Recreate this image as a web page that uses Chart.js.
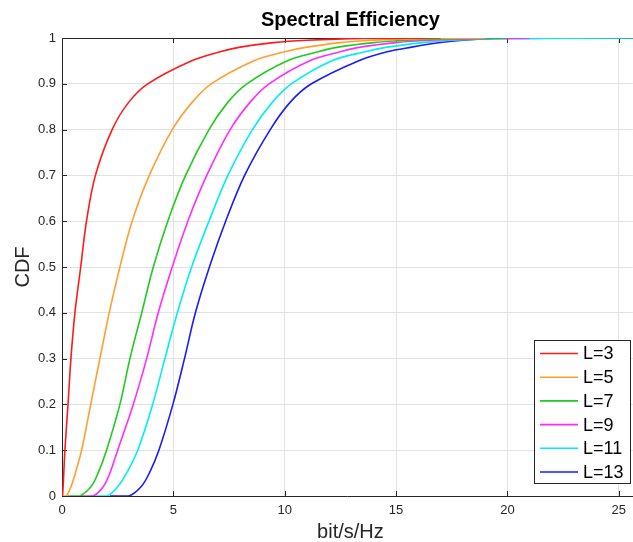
<!DOCTYPE html>
<html><head><meta charset="utf-8">
<script src="https://cdn.jsdelivr.net/npm/chart.js@4.4.1/dist/chart.umd.min.js"></script>
<style>html,body{margin:0;padding:0;background:#fff;}#wrap{width:633px;height:542px;position:relative;}</style>
</head><body><div id="wrap"><canvas id="c" width="633" height="542"></canvas></div>
<script>
// CDF levels shared by all series; each series gives the x (bit/s/Hz) at which it reaches that level
const cdfLevels = [0, 0, 0.02, 0.05, 0.1, 0.2, 0.3, 0.4, 0.5, 0.6, 0.7, 0.8, 0.86, 0.9, 0.95, 0.97, 0.98, 0.99, 0.995, 0.999, 1];
const seriesLabels = ['L=3', 'L=5', 'L=7', 'L=9', 'L=11', 'L=13'];
const xL3  = [0.00, 0.02, 0.05, 0.08, 0.13, 0.27, 0.40, 0.58, 0.84, 1.10, 1.50, 2.25, 3.00, 3.85, 5.80, 7.10, 8.00, 9.50, 11.0, 13.5, 17.0];
const xL5  = [0.05, 0.20, 0.40, 0.60, 0.88, 1.29, 1.70, 2.12, 2.60, 3.15, 3.92, 4.95, 5.85, 6.70, 8.60, 10.0, 11.0, 12.5, 14.0, 16.5, 19.0];
const xL7  = [0.25, 0.80, 1.30, 1.62, 2.00, 2.60, 3.05, 3.58, 4.10, 4.75, 5.55, 6.60, 7.45, 8.30, 10.1, 11.5, 12.4, 14.0, 15.5, 18.0, 20.0];
const xL9  = [0.88, 1.40, 1.85, 2.15, 2.50, 3.20, 3.80, 4.32, 4.95, 5.65, 6.50, 7.55, 8.45, 9.30, 11.1, 12.5, 13.4, 15.0, 16.5, 19.0, 21.0];
const xL11 = [1.25, 2.00, 2.50, 2.90, 3.40, 4.07, 4.62, 5.18, 5.82, 6.60, 7.45, 8.55, 9.45, 10.3, 12.1, 13.6, 14.6, 16.2, 17.5, 20.0, 25.7];
const xL13 = [2.15, 3.00, 3.55, 3.92, 4.35, 4.98, 5.50, 5.99, 6.62, 7.35, 8.20, 9.35, 10.25, 11.2, 13.3, 14.6, 15.7, 17.0, 18.0, 19.5, 23.7];
const seriesColors = ['#ff1a1a', '#ff9f30', '#1ecb1e', '#ff2bff', '#00eeee', '#1a1aff'];
const xTicks = [0, 5, 10, 15, 20, 25];
const xTickLabels = ['0', '5', '10', '15', '20', '25'];
const yTicks = [0, 0.1, 0.2, 0.3, 0.4, 0.5, 0.6, 0.7, 0.8, 0.9, 1];
const yTickLabels = ['0', '0.1', '0.2', '0.3', '0.4', '0.5', '0.6', '0.7', '0.8', '0.9', '1'];
const xMin = 0, xMax = 25.63, yMin = 0, yMax = 1;
const titleText = 'Spectral Efficiency';
const xTitle = 'bit/s/Hz';
const yTitle = 'CDF';

const FONT = "'Liberation Sans', Arial, Helvetica, sans-serif";
const INK = '#262626';
const allX = [xL3, xL5, xL7, xL9, xL11, xL13];

const datasets = allX.map((xs, i) => ({
  label: seriesLabels[i],
  data: xs.map((x, k) => ({x: x, y: cdfLevels[k]})),
  borderColor: seriesColors[i],
  backgroundColor: seriesColors[i],
  borderWidth: 1.6,
  pointRadius: 0,
  fill: false,
  tension: 0.35
}));

const decor = {
  id: 'decor',
  beforeDatasetsDraw(chart) {
    const {ctx, chartArea: a, scales: {x, y}} = chart;
    ctx.save();
    ctx.strokeStyle = INK;
    ctx.lineWidth = 1;
    ctx.beginPath();
    ctx.moveTo(a.left, a.top + 0.5); ctx.lineTo(a.right, a.top + 0.5);
    xTicks.forEach(v => {
      const px = Math.round(x.getPixelForValue(v)) + 0.5;
      ctx.moveTo(px, a.bottom); ctx.lineTo(px, a.bottom - 5);
      ctx.moveTo(px, a.top); ctx.lineTo(px, a.top + 5);
    });
    yTicks.forEach(v => {
      const py = Math.round(y.getPixelForValue(v)) + 0.5;
      ctx.moveTo(a.left, py); ctx.lineTo(a.left + 5, py);
    });
    ctx.stroke();
    ctx.restore();
  },
  afterDraw(chart) {
    const {ctx, chartArea: a} = chart;
    ctx.save();
    ctx.fillStyle = '#000';
    ctx.textAlign = 'center';
    ctx.textBaseline = 'middle';
    ctx.font = 'bold 20px ' + FONT;
    ctx.fillText(titleText, (a.left + a.right) / 2 + 3, 20);
    ctx.fillStyle = INK;
    ctx.font = '20px ' + FONT;
    ctx.fillText(xTitle, (a.left + a.right) / 2 + 3, 532);
    ctx.save();
    ctx.translate(23, (a.top + a.bottom) / 2);
    ctx.rotate(-Math.PI / 2);
    ctx.fillText(yTitle, 0, 0);
    ctx.restore();
    // legend
    const bx = 534.5, by = 340.5, bw = 96, bh = 143;
    ctx.fillStyle = '#fff';
    ctx.fillRect(bx, by, bw, bh);
    ctx.strokeStyle = INK;
    ctx.lineWidth = 1;
    ctx.strokeRect(bx, by, bw, bh);
    ctx.font = '18px ' + FONT;
    ctx.textAlign = 'left';
    ctx.textBaseline = 'middle';
    chart.data.datasets.forEach((ds, i) => {
      const cy = 353.5 + i * 23.7;
      ctx.strokeStyle = ds.borderColor;
      ctx.lineWidth = 1.6;
      ctx.beginPath();
      ctx.moveTo(540, cy); ctx.lineTo(578, cy);
      ctx.stroke();
      ctx.fillStyle = '#000';
      ctx.fillText(ds.label, 583, cy + 1);
    });
    ctx.restore();
  }
};

new Chart(document.getElementById('c'), {
  type: 'line',
  data: {datasets},
  options: {
    responsive: false,
    animation: false,
    devicePixelRatio: 1,
    parsing: false,
    layout: {padding: {top: 38, left: 0, right: 0, bottom: 0}},
    plugins: {legend: {display: false}, title: {display: false}, tooltip: {enabled: false}},
    scales: {
      x: {
        type: 'linear', min: xMin, max: xMax,
        afterBuildTicks: s => { s.ticks = xTicks.map(v => ({value: v})); },
        afterFit: s => { s.height = 46; },
        grid: {color: '#e2e2e2', lineWidth: 1, drawTicks: false},
        border: {color: INK, width: 1},
        ticks: {padding: 7, color: INK, font: {family: FONT, size: 13}, maxRotation: 0,
          callback: (v, i) => xTickLabels[i]}
      },
      y: {
        type: 'linear', min: yMin, max: yMax,
        afterBuildTicks: s => { s.ticks = yTicks.map(v => ({value: v})); },
        afterFit: s => { s.width = 62; },
        grid: {color: '#e2e2e2', lineWidth: 1, drawTicks: false},
        border: {color: INK, width: 1},
        ticks: {padding: 6, color: INK, font: {family: FONT, size: 13},
          callback: (v, i) => yTickLabels[i]}
      }
    }
  },
  plugins: [decor]
});
</script></body></html>
